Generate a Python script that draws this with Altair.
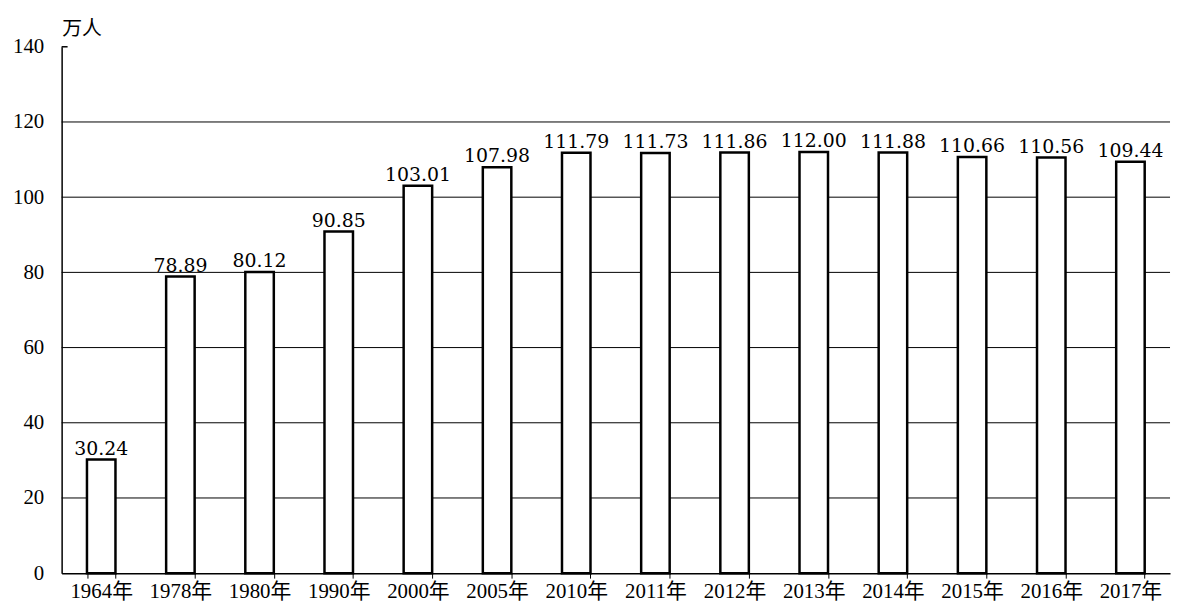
import altair as alt
import pandas as pd

years = ["1964年", "1978年", "1980年", "1990年", "2000年", "2005年", "2010年",
         "2011年", "2012年", "2013年", "2014年", "2015年", "2016年", "2017年"]
values = [30.24, 78.89, 80.12, 90.85, 103.01, 107.98, 111.79,
          111.73, 111.86, 112.00, 111.88, 110.66, 110.56, 109.44]
labels = ["30.24", "78.89", "80.12", "90.85", "103.01", "107.98", "111.79",
          "111.73", "111.86", "112.00", "111.88", "110.66", "110.56", "109.44"]
grid_values = [20, 40, 60, 80, 100, 120]
y_ticks = [0, 20, 40, 60, 80, 100, 120, 140]

df = pd.DataFrame({"year": years, "value": values, "label": labels})
grid_df = pd.DataFrame({"g": grid_values})

SERIF = "Liberation Serif, Noto Sans CJK SC"
VALFONT = "DejaVu Serif, Liberation Serif"

x_enc = alt.X("year:N", sort=years,
              scale=alt.Scale(paddingInner=0.64, paddingOuter=0.32),
              axis=alt.Axis(title=None, labelAngle=0, labelFont=SERIF, labelFontSize=21,
                            labelColor="black", labelPadding=3, tickBand="extent",
                            tickSize=5, tickColor="black", domainColor="black",
                            domainWidth=1.5))
y_scale = alt.Scale(domain=[0, 140], nice=False)

grid = alt.Chart(grid_df).mark_rule(color="black", strokeWidth=1).encode(
    y=alt.Y("g:Q", scale=y_scale,
            axis=alt.Axis(values=y_ticks, title="万人", titleAngle=0, titleAlign="left",
                          titleBaseline="alphabetic", titleX=0, titleY=-12,
                          titleFont="Noto Sans CJK SC", titleFontSize=20,
                          titleFontWeight="normal", titleColor="black",
                          labelFont=SERIF, labelFontSize=21, labelColor="black",
                          labelPadding=18, ticks=False, grid=False,
                          domainColor="black", domainWidth=1.5))
)

top_tick = alt.Chart(pd.DataFrame({"t": [140]})).mark_rule(color="black", strokeWidth=1.5).encode(
    y=alt.Y("t:Q", scale=y_scale), x=alt.value(0), x2=alt.value(6)
)

bars = alt.Chart(df).mark_bar(fill="white", stroke="black", strokeWidth=2.5).encode(
    x=x_enc,
    y=alt.Y("value:Q", scale=y_scale),
)

text = alt.Chart(df).mark_text(font=VALFONT, fontSize=19, color="black",
                               baseline="alphabetic", dy=-5).encode(
    x=alt.X("year:N", sort=years),
    y=alt.Y("value:Q", scale=y_scale),
    text="label:N",
)

chart = alt.layer(grid, top_tick, bars, text).properties(
    width=1116, height=530,
    padding={"left": 54, "top": 37, "right": 4, "bottom": 30},
    autosize=alt.AutoSizeParams(type="none"),
    view=alt.ViewBackground(stroke="transparent", strokeWidth=0),
).configure_view(stroke="transparent", strokeWidth=0).configure(background="white")

chart.save("out.html", embed_options={"renderer": "svg", "actions": False})
